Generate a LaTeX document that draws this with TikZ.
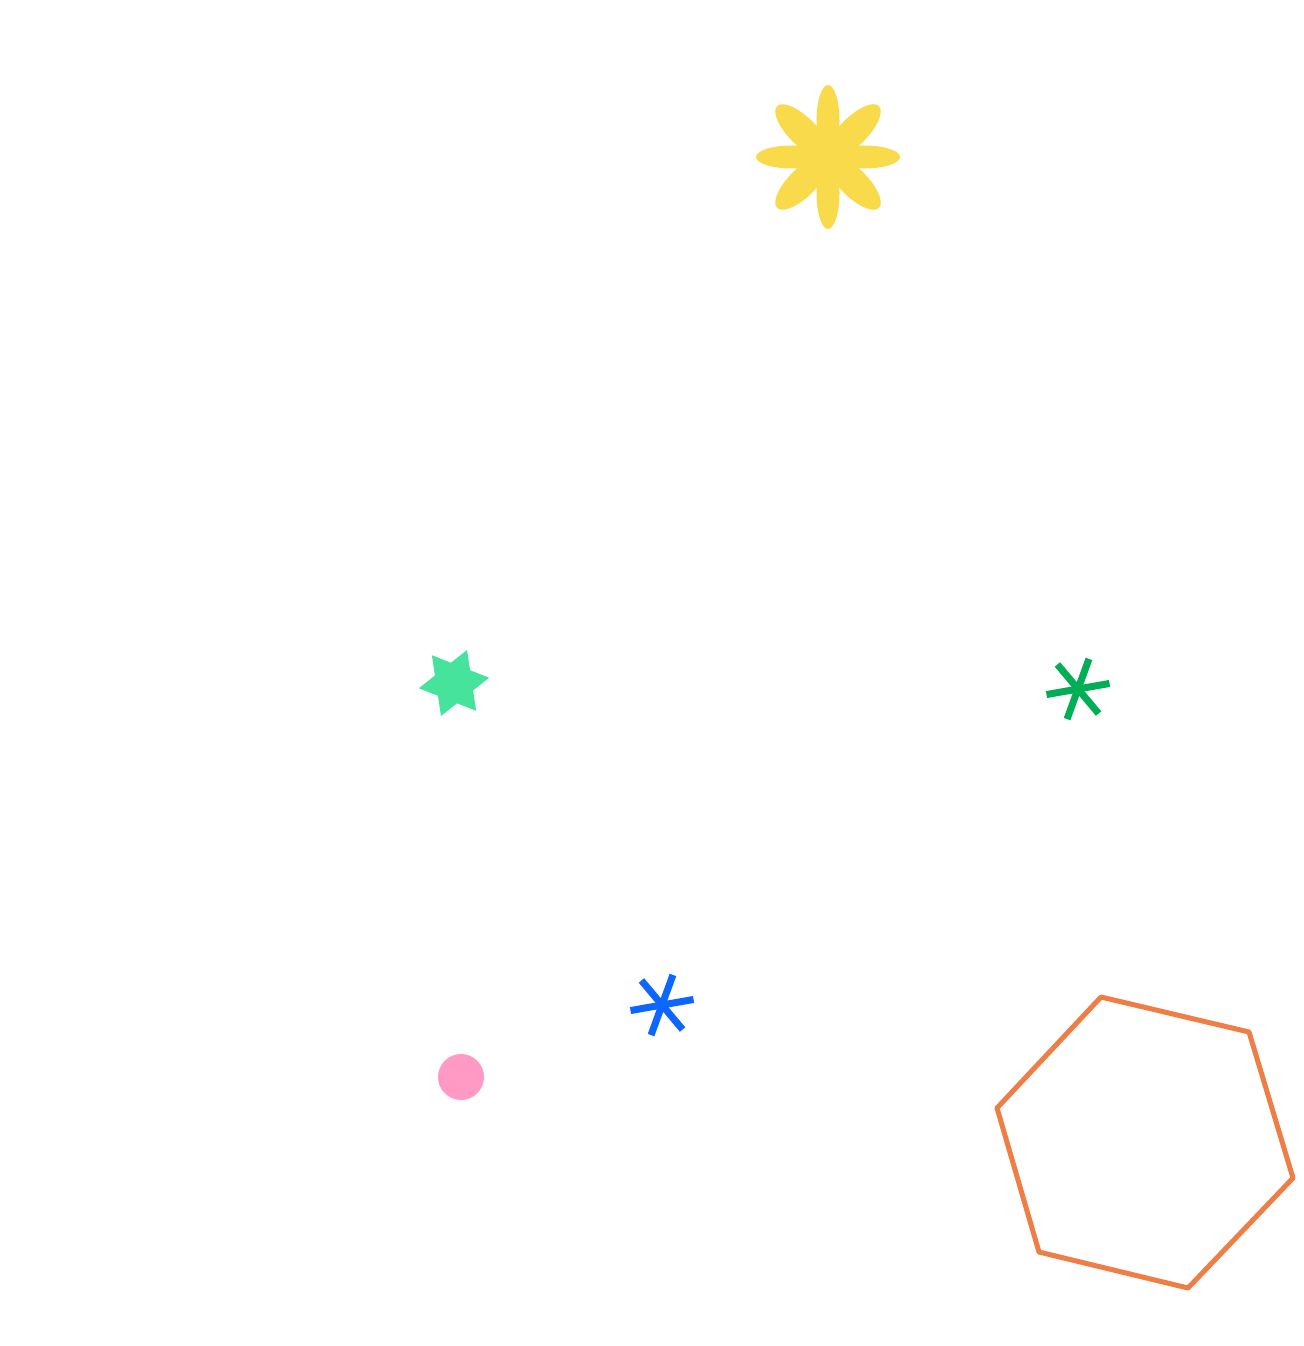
\documentclass[tikz,border=0pt]{standalone}
\usepackage{tikz}
\definecolor{petal}{HTML}{F8DA4A}
\definecolor{mint}{HTML}{45E39C}
\definecolor{leaf}{HTML}{00AE55}
\definecolor{sky}{HTML}{0D66FF}
\definecolor{rose}{HTML}{FF9AC4}
\definecolor{peach}{HTML}{EF7D46}
\begin{document}
\begin{tikzpicture}[x=0.01cm, y=-0.01cm, spoke/.style={line width=0.07cm}]
                        \useasboundingbox (0, 0) rectangle (1303, 1346);
                        \fill[white] (0, 0) rectangle (1303, 1346);
                        % flower
                        \foreach \a/\r in {0/11.5, 45/14, 90/11.5, 135/14, 180/11.5, 225/14, 270/11.5, 315/14}
                                \fill[petal, rotate around={\a:(828, 157)}] (864, 157) ellipse (36 and \r);
                        \fill[petal] (828, 157) circle (16);
                        % star
                        \fill[mint] (454, 683) +(-68.5:35.5)
                                \foreach \k in {0,...,5} {-- +(-68.5-60*\k:35.5) -- +(-98.5-60*\k:20.5)} -- cycle;
                        % asterisks
                        \foreach \a in {10, 70, 130}
                                \draw[spoke, leaf] (1078, 689) +(-\a:32) -- +(180-\a:32);
                        \foreach \a in {10, 70, 130}
                                \draw[spoke, sky] (662, 1005) +(-\a:32) -- +(180-\a:32);
                        % dot
                        \fill[rose] (461, 1077) circle (23);
                        % hexagon
                        \draw[peach, line width=0.05cm, line join=round]
                                (1101, 997) -- (1249, 1032) -- (1293, 1178) -- (1188, 1288) -- (1039, 1252) -- (997, 1108) -- cycle;
                \end{tikzpicture}
\end{document}
